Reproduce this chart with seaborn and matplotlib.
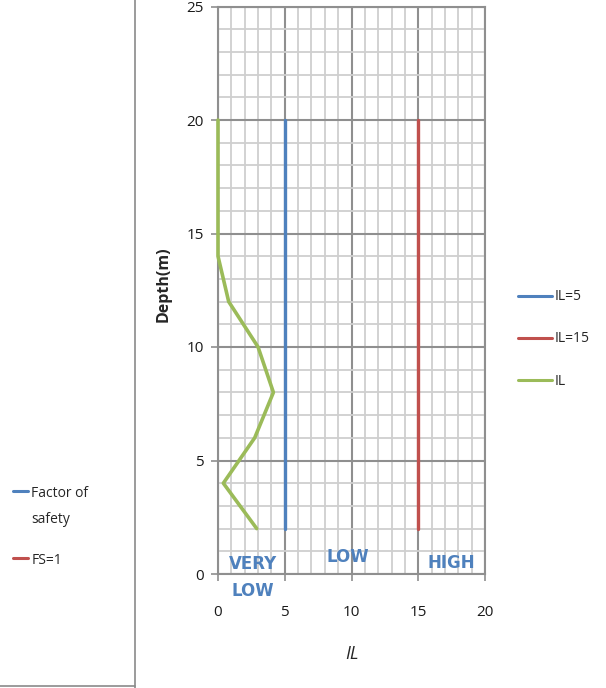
import matplotlib
matplotlib.use("Agg")
import matplotlib.pyplot as plt
from matplotlib.lines import Line2D
from matplotlib.ticker import MultipleLocator
import seaborn as sns
import pandas as pd

# Liquefaction index profile against depth
depth = [2, 4, 6, 8, 10, 12, 14, 16, 18, 20]
il_values = [2.9, 0.4, 2.75, 4.15, 3.0, 0.8, 0.0, 0.0, 0.0, 0.0]

# Class boundaries drawn as constant IL lines
boundary_depth = [2, 20]
il_low = [5, 5]
il_high = [15, 15]

x_ticks = [0, 5, 10, 15, 20]
y_ticks = [0, 5, 10, 15, 20, 25]

zone_labels = ["VERY\nLOW", "LOW", "HIGH"]
zone_x = [2.6, 9.7, 17.5]
zone_y = [-0.15, 0.75, 0.5]

right_legend = ["IL=5", "IL=15", "IL"]
left_legend = ["Factor of\nsafety", "FS=1"]

BLUE = "#4f81bd"
RED = "#c0504d"
GREEN = "#9bbb59"

sns.set_theme(style="white")
plt.rcParams["font.family"] = ["Open Sans", "DejaVu Sans"]

fig = plt.figure(figsize=(6.06, 6.88), dpi=100)
ax = fig.add_axes([218 / 606, 1 - 574 / 688, 267 / 606, 567.5 / 688])

df_il = pd.DataFrame({"IL": il_values, "Depth": depth})
df_low = pd.DataFrame({"IL": il_low, "Depth": boundary_depth})
df_high = pd.DataFrame({"IL": il_high, "Depth": boundary_depth})

sns.lineplot(data=df_low, x="IL", y="Depth", sort=False, estimator=None,
             color=BLUE, lw=2.4, ax=ax, label=right_legend[0])
sns.lineplot(data=df_high, x="IL", y="Depth", sort=False, estimator=None,
             color=RED, lw=2.4, ax=ax, label=right_legend[1])
sns.lineplot(data=df_il, x="IL", y="Depth", sort=False, estimator=None,
             color=GREEN, lw=2.6, ax=ax, label=right_legend[2])
for ln in ax.get_lines():
    ln.set_clip_on(False)
    ln.set_zorder(3)

ax.set_xlim(0, 20)
ax.set_ylim(0, 25)
ax.set_xticks(x_ticks)
ax.set_yticks(y_ticks)
ax.xaxis.set_minor_locator(MultipleLocator(1))
ax.yaxis.set_minor_locator(MultipleLocator(1))
ax.grid(which="minor", color="#cfcfcf", lw=1.3)
ax.grid(which="major", color="#8f8f8f", lw=1.5)
ax.set_axisbelow(True)
for s in ax.spines.values():
    s.set_color("#8f8f8f")
    s.set_linewidth(1.5)
    s.set_zorder(1)

ax.tick_params(axis="x", which="major", direction="out", length=5, width=1.2,
               color="#8f8f8f", pad=17, labelsize=11, labelcolor="#1a1a1a")
ax.tick_params(axis="y", which="major", direction="out", length=5, width=1.2,
               color="#8f8f8f", pad=5, labelsize=11, labelcolor="#1a1a1a")
ax.tick_params(which="minor", length=0)
ax.tick_params(bottom=True, left=True)

ax.set_xlabel("IL", fontsize=13, style="italic", labelpad=18)
ax.set_ylabel("Depth(m)", fontsize=11.5, fontweight="bold")
ax.yaxis.set_label_coords(-0.175, 0.51)

for txt, xx, yy in zip(zone_labels, zone_x, zone_y):
    ax.text(xx, yy, txt, color=BLUE, fontsize=12, fontweight="bold",
            ha="center", va="center", linespacing=1.6,
            family=["Liberation Sans Narrow", "DejaVu Sans"], clip_on=False)

leg = ax.legend(loc="center left", bbox_to_anchor=(505 / 606, 1 - 339 / 688),
                bbox_transform=fig.transFigure,
                frameon=False, fontsize=10, handlelength=2.45,
                labelspacing=1.95, handletextpad=0.25)
for h in leg.get_lines():
    h.set_linewidth(2.2)

handles = [Line2D([], [], color=BLUE, lw=2.2), Line2D([], [], color=RED, lw=2.2)]
leg2 = fig.legend(handles, left_legend, loc="center left",
                  bbox_to_anchor=(0.0, 1 - 527 / 688), frameon=False,
                  fontsize=10, handlelength=1.15, handletextpad=0.2,
                  labelspacing=1.9)
leg2.get_texts()[0].set_linespacing(1.95)
# keep each handle level with the first line of its label
for column in leg2._legend_handle_box.get_children():
    for row in column.get_children():
        row.align = "top"

# frame edges on the left part of the figure
fig.add_artist(Line2D([135 / 606, 135 / 606], [0, 1], color="#8a8a8a", lw=1.2,
                      transform=fig.transFigure))
fig.add_artist(Line2D([0, 135 / 606], [2 / 688, 2 / 688], color="#8a8a8a", lw=1.2,
                      transform=fig.transFigure))

fig.savefig("out.png", dpi=100)
